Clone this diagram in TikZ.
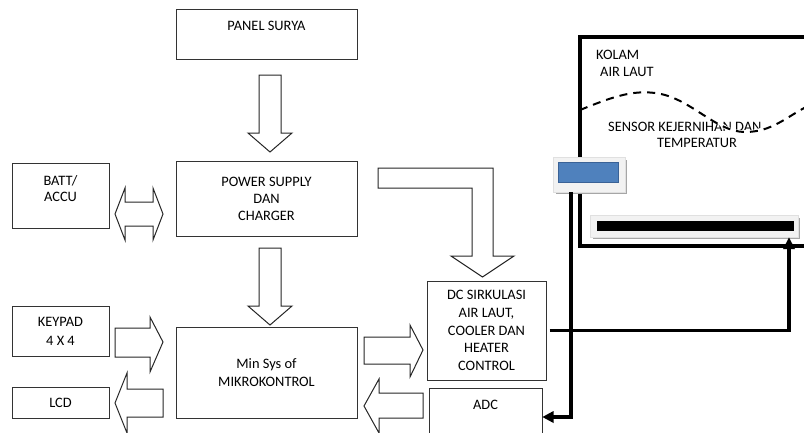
\documentclass[tikz,border=0pt]{standalone}
\usepackage{fontspec}
\setmainfont{Carlito}
\usepackage{tikz}

\definecolor{sensorblue}{RGB}{79,129,189}
\definecolor{sensoredge}{RGB}{58,98,150}
\definecolor{framegray}{RGB}{242,242,242}

\begin{document}
\begin{tikzpicture}[x=1pt,y=-1pt,
  box/.style={draw=black!80,line width=1pt,align=center,font=\fontsize{14.4}{17}\selectfont},
  lbl/.style={align=center,font=\fontsize{14.4}{17}\selectfont},
  blk/.style={draw=black!85,line width=1pt,fill=white,line join=miter},
  wire/.style={line width=3.5pt},
  frm/.style={fill=framegray,draw=black!12,line width=0.6pt}]
\tikzstyle{every node}+=[inner sep=0pt]
\useasboundingbox (0,0) rectangle (804,432);
\clip (0,0) rectangle (804,432);
% blocks
\node [box,minimum width=181,minimum height=50] (panel) at (266.5,34) {};
\node [lbl] (panellbl) at (266.5,26) {PANEL SURYA};
\node [box,minimum width=181,minimum height=75] (psu) at (266.5,198.5) {POWER SUPPLY\\DAN\\CHARGER};
\node [box,minimum width=181,minimum height=91,font=\fontsize{14.4}{18}\selectfont] (mcu) at (266.5,372.5) {Min Sys of\\MIKROKONTROL};
\node [box,minimum width=97,minimum height=65] (batt) at (60.5,195.5) {};
\node [lbl,font=\fontsize{14.4}{16}\selectfont] (battlbl) at (60.5,189) {BATT/\\ACCU};
\node [box,minimum width=97,minimum height=50,font=\fontsize{14.4}{19}\selectfont] (keypad) at (60.5,331) {KEYPAD\\4 X 4};
\node [box,minimum width=97,minimum height=31] (lcd) at (60.5,402.5) {LCD};
\node [box,minimum width=119,minimum height=99,font=\fontsize{14.4}{17.7}\selectfont] (dc) at (486.5,330.5) {DC SIRKULASI\\AIR LAUT,\\COOLER DAN\\HEATER\\CONTROL};
\node [box,minimum width=113,minimum height=58] (adc) at (485.5,417) {};
\node [lbl] (adclbl) at (485.5,405) {ADC};
% block arrows
\draw [blk] (259,75) -- (281,75) -- (281,133) -- (292,133) -- (270,152) -- (248,133) -- (259,133) -- cycle;
\draw [blk] (259,248) -- (281,248) -- (281,306) -- (292,306) -- (270,325) -- (248,306) -- (259,306) -- cycle;
\draw [blk] (115,214) -- (125,188) -- (125,202) -- (153,202) -- (153,188) -- (163,214) -- (153,240) -- (153,226) -- (125,226) -- (125,240) -- cycle;
\draw [blk] (115,328) -- (150,328) -- (150,317) -- (163,342) -- (150,372) -- (150,357) -- (115,357) -- cycle;
\draw [blk] (163,389) -- (127,389) -- (127,373) -- (115,403) -- (127,433) -- (127,417) -- (163,417) -- cycle;
\draw [blk] (364,337) -- (410,337) -- (410,325) -- (423,350) -- (410,377) -- (410,364) -- (364,364) -- cycle;
\draw [blk] (423,393) -- (379,393) -- (379,379) -- (364,406) -- (379,433) -- (379,418) -- (423,418) -- cycle;
\draw [blk] (378,168) -- (493,168) -- (493,256) -- (514,256) -- (482.5,277) -- (451,256) -- (472,256) -- (472,188) -- (378,188) -- cycle;
% pond
\draw [line width=3.3pt] (580,37) rectangle (812,246);
\node [lbl,anchor=west] (kolam) at (596,55) {KOLAM};
\node [lbl,anchor=west] (airlaut) at (600,72) {AIR LAUT};
\node [lbl,anchor=west] (sensorlbl) at (608,127) {SENSOR KEJERNIHAN DAN};
\node [lbl] (templbl) at (697,143) {TEMPERATUR};
\draw [white,line width=3.5pt] (716,120) .. controls (724,128) and (732,132) .. (745,132) .. controls (762,132) and (772,125) .. (782,120);
\draw [line width=2pt,dash pattern=on 8pt off 6pt] (580,110) .. controls (612,97) and (632,90) .. (655,93) .. controls (690,97) and (715,132) .. (745,132) .. controls (772,132) and (786,117) .. (808,106);
% sensors
\fill [black!35] (556,160) rectangle (627,194);
\draw [frm] (553,157) rectangle (625,192);
\node [fill=sensorblue,draw=sensoredge,line width=0.6pt,minimum width=60,minimum height=20] (probe) at (588,172) {};
\fill [black!35] (593,218) rectangle (800,239);
\draw [frm] (590,215) rectangle (798,237);
\node [fill=black,minimum width=197,minimum height=10] (bar) at (695.5,226) {};
% wires
\coordinate (probetap) at (571,192);
\coordinate (bartap) at (789,249);
\draw [wire] (probetap) |- ([xshift=10pt]adc.east);
\fill (adc.east) -- ++(11,-6) -- ++(0,12) -- cycle;
\draw [wire,shorten <=3pt] (dc.east) -| (bartap);
\fill (789,237.5) -- ++(-6,11.5) -- ++(12,0) -- cycle;
\end{tikzpicture}
\end{document}
